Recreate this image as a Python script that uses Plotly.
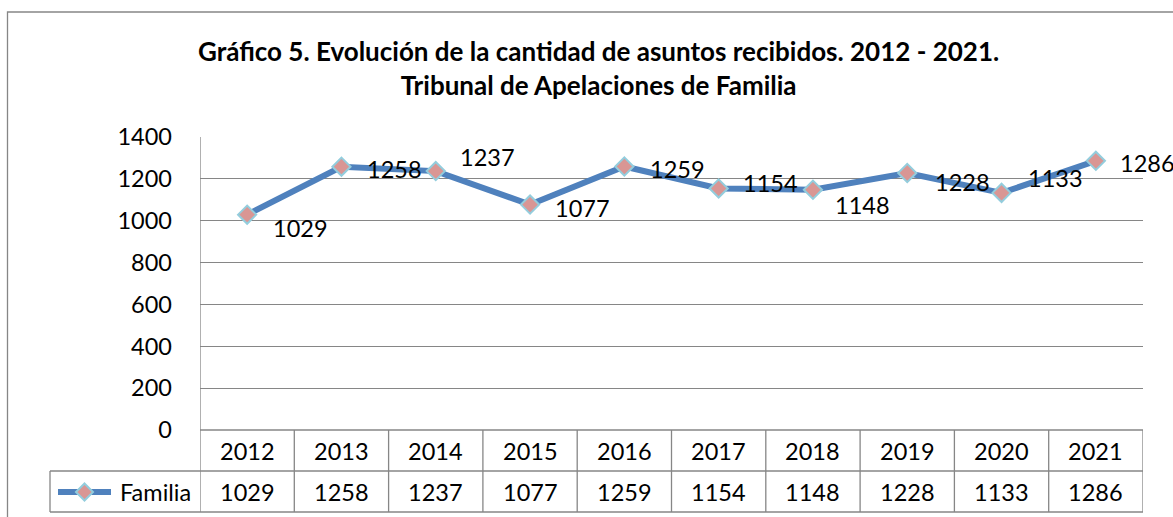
import plotly.graph_objects as go

years = ["2012", "2013", "2014", "2015", "2016", "2017", "2018", "2019", "2020", "2021"]
familia = [1029, 1258, 1237, 1077, 1259, 1154, 1148, 1228, 1133, 1286]
series_name = "Familia"
y_ticks = [0, 200, 400, 600, 800, 1000, 1200, 1400]
title_lines = ["Gráfico 5. Evolución de la cantidad de asuntos recibidos. 2012 - 2021.",
               "Tribunal de Apelaciones de Familia"]

# label offsets in pixels (dx right, dy up)
label_dx = [53, 53, 52, 52, 53, 52, 50, 55, 54, 52]
label_dy = [-13, -2, 14, -3, -2, 5, -15, -9, 15, -2]

W, H = 1173, 517
L, R, T, B = 200, 1143, 137, 430
pw, ph = R - L, B - T
FONT = "Lato"
FS = 23.5
GRID = "#868686"
LINE_C = "#4F81BD"
MK_FILL = "#D99694"
MK_LINE = "#93CDDD"

def px_x(p):
    return (p - L) / pw

def px_y(p):
    return (B - p) / ph

xs = list(range(len(years)))

fig = go.Figure()
fig.add_trace(go.Scatter(
    x=xs, y=familia, mode="lines+markers", name=series_name,
    line=dict(color=LINE_C, width=6),
    marker=dict(symbol="diamond", size=14, color=MK_FILL, line=dict(color=MK_LINE, width=2)),
    showlegend=False, cliponaxis=False,
))

annotations = []
for i, v in enumerate(familia):
    annotations.append(dict(x=i, y=v, xref="x", yref="y", text=str(v), showarrow=False,
                            xanchor="center", yanchor="middle",
                            xshift=label_dx[i], yshift=label_dy[i],
                            font=dict(family=FONT, size=FS, color="#000000")))

# table text
row1_c = px_y(451)
row2_c = px_y(492)
for i, yr in enumerate(years):
    annotations.append(dict(x=i, y=row1_c, xref="x", yref="paper", text=yr, showarrow=False,
                            xanchor="center", yanchor="middle",
                            font=dict(family=FONT, size=FS, color="#000000")))
    annotations.append(dict(x=i, y=row2_c, xref="x", yref="paper", text=str(familia[i]), showarrow=False,
                            xanchor="center", yanchor="middle",
                            font=dict(family=FONT, size=FS, color="#000000")))
annotations.append(dict(x=px_x(193), y=row2_c, xref="paper", yref="paper", text=series_name,
                        showarrow=False, xanchor="right", yanchor="middle",
                        font=dict(family=FONT, size=FS, color="#000000")))

annotations.append(dict(x=px_x(598), y=px_y(68), xref="paper", yref="paper",
                        text="<b>" + title_lines[0] + "</b><br><b>" + title_lines[1] + "</b>",
                        showarrow=False, xanchor="center", yanchor="middle",
                        font=dict(family=FONT, size=26, color="#000000")))

shapes = []
lw = 1.3
# outer border
shapes.append(dict(type="rect", xref="paper", yref="paper", x0=px_x(7.5), x1=px_x(1190),
                   y0=px_y(530), y1=px_y(12), line=dict(color=GRID, width=lw), layer="below"))
# table horizontal lines
shapes.append(dict(type="line", xref="paper", yref="paper", x0=px_x(200), x1=1, y0=px_y(430), y1=px_y(430),
                   line=dict(color=GRID, width=lw)))
for yy in (471, 512):
    shapes.append(dict(type="line", xref="paper", yref="paper", x0=px_x(50), x1=1, y0=px_y(yy), y1=px_y(yy),
                       line=dict(color=GRID, width=lw)))
# column boundaries
for i in range(len(years) + 1):
    shapes.append(dict(type="line", xref="x", yref="paper", x0=i - 0.5, x1=i - 0.5,
                       y0=px_y(512), y1=px_y(430) if i > 0 else 1,
                       line=dict(color=GRID, width=lw)))
# legend cell left
shapes.append(dict(type="line", xref="paper", yref="paper", x0=px_x(50), x1=px_x(50),
                   y0=px_y(512), y1=px_y(471), line=dict(color=GRID, width=lw)))
# legend sample
shapes.append(dict(type="line", xref="paper", yref="paper", x0=px_x(58), x1=px_x(111),
                   y0=row2_c, y1=row2_c, line=dict(color=LINE_C, width=6)))
cx, cy, r = 84.5, 492, 8.5
path = "M {} {} L {} {} L {} {} L {} {} Z".format(
    px_x(cx), px_y(cy - r), px_x(cx + r), px_y(cy), px_x(cx), px_y(cy + r), px_x(cx - r), px_y(cy))
shapes.append(dict(type="path", xref="paper", yref="paper", path=path,
                   fillcolor=MK_FILL, line=dict(color=MK_LINE, width=2)))

fig.update_layout(
    width=W, height=H,
    margin=dict(l=L, r=W - R, t=T, b=H - B, pad=0),
    plot_bgcolor="white", paper_bgcolor="white",
    xaxis=dict(range=[-0.5, len(years) - 0.5], showticklabels=False, showgrid=False,
               zeroline=False, showline=False, fixedrange=True),
    yaxis=dict(range=[0, 1400], tickvals=y_ticks, showgrid=True, gridcolor=GRID, gridwidth=lw,
               zeroline=False, showline=False, ticks="", ticklabelstandoff=27,
               tickfont=dict(family=FONT, size=FS, color="#000000"), fixedrange=True),
    annotations=annotations, shapes=shapes,
    font=dict(family=FONT),
)

fig.write_html("out.html", config={"displayModeBar": False},
               post_script="document.body.style.margin='0';document.body.style.overflow='hidden';")
